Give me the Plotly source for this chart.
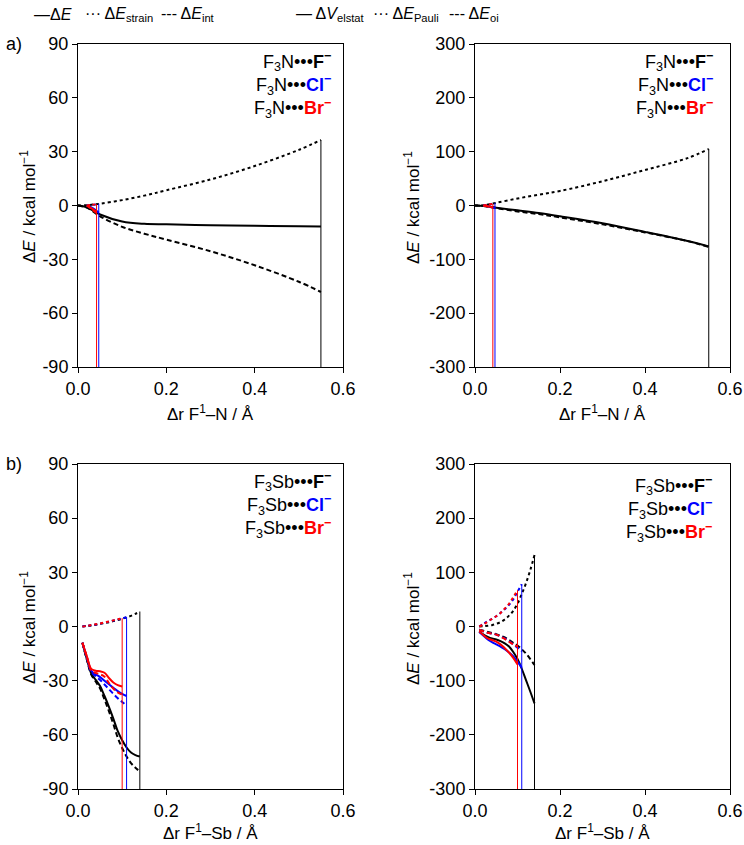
import plotly.graph_objects as go
from plotly.subplots import make_subplots

# ---- a) F3N...X-   (x = delta r F1-N / A)
x_N_F = [0.0, 0.02, 0.05, 0.1, 0.15, 0.2, 0.3, 0.4, 0.5, 0.55]
dE_N_F = [0, -1, -5, -8.9, -10.2, -10.5, -11, -11.3, -11.5, -11.7]
strain_N_F = [0, 0.2, 1, 3, 5.5, 8.5, 14.5, 22, 31, 36.5]
int_N_F = [0, -1.2, -6, -11.9, -15.7, -19, -25.5, -33.3, -42.5, -48.2]
elstat_N_F = [0, -1, -4, -9, -14, -20, -33, -49, -66, -76]
pauli_N_F = [0, 0.5, 5, 13, 20, 27, 45, 66, 88, 105]
oi_N_F = [0, -1, -5, -11, -16, -22, -35, -50, -66, -77]

x_N_Cl = [0.02, 0.03, 0.04, 0.047]
dE_N_Cl = [0, -1, -2.5, -4]
strain_N_Cl = [0, 0.3, 0.6, 1]
int_N_Cl = [0, -1.3, -3.1, -5]
elstat_N_Cl = [0, -1.5, -3, -5]
pauli_N_Cl = [0, 1.5, 3, 5]
oi_N_Cl = [0, -1.3, -3, -5]

x_N_Br = [0.02, 0.03, 0.042]
dE_N_Br = [0, -1.5, -3.5]
strain_N_Br = [0, 0.3, 0.7]
int_N_Br = [0, -1.8, -4.2]
elstat_N_Br = [0, -1.5, -3.5]
pauli_N_Br = [0, 1.5, 3]
oi_N_Br = [0, -1.8, -3.7]

# ---- b) F3Sb...X-   (x = delta r F1-Sb / A)
x_Sb_F = [0.01, 0.02, 0.03, 0.04, 0.05, 0.06, 0.07, 0.08, 0.09, 0.1, 0.11, 0.12, 0.13, 0.14]
dE_Sb_F = [-9, -18, -26, -29.5, -33, -38.5, -44.5, -51, -58, -63, -67, -69.8, -71.2, -72]
strain_Sb_F = [0, 0.3, 0.6, 1, 1.4, 1.9, 2.4, 3, 3.6, 4.3, 5, 5.9, 7, 8.3]
int_Sb_F = [-9, -18.3, -26.6, -30.5, -34.4, -40.4, -46.9, -54, -61.6, -67.3, -72, -75.7, -78.2, -80.3]
elstat_Sb_F = [-9, -15, -19, -22, -24, -27, -31, -37, -47, -60, -78, -99, -120, -142]
pauli_Sb_F = [0, 0.5, 1.5, 2.5, 5, 8, 13, 20, 29, 42, 60, 80, 104, 132]
oi_Sb_F = [-6, -8, -10, -12, -14, -17, -20, -25, -30, -35, -42, -50, -60, -71]

x_Sb_Cl = [0.01, 0.02, 0.03, 0.04, 0.05, 0.06, 0.07, 0.08, 0.09, 0.1, 0.11]
dE_Sb_Cl = [-9, -17, -24.5, -26.5, -28, -30, -32, -34, -35.8, -37.3, -38.5]
strain_Sb_Cl = [0, 0.3, 0.7, 1.1, 1.6, 2.1, 2.7, 3.3, 3.9, 4.5, 5.2]
int_Sb_Cl = [-9, -17.3, -25.2, -27.6, -29.6, -32.1, -34.7, -37.3, -39.7, -41.8, -43.7]
elstat_Sb_Cl = [-10, -17, -24, -29, -33, -37, -42, -48, -55, -65, -76]
pauli_Sb_Cl = [0, 5, 10, 14, 19, 25, 32, 40, 50, 64, 78]
oi_Sb_Cl = [-6, -9, -11.5, -13, -15, -18.5, -22, -27, -33, -39, -46]

x_Sb_Br = [0.01, 0.02, 0.03, 0.04, 0.05, 0.06, 0.07, 0.08, 0.09, 0.1]
dE_Sb_Br = [-9, -16.5, -23.5, -24.5, -24.8, -25.6, -28.5, -31, -32.5, -33.2]
strain_Sb_Br = [0, 0.3, 0.8, 1.2, 1.7, 2.2, 2.8, 3.4, 4, 4.6]
int_Sb_Br = [-9, -16.8, -24.3, -25.7, -26.5, -27.8, -31.3, -34.4, -36.5, -37.8]
elstat_Sb_Br = [-9, -16, -22, -25, -28, -33, -40, -48, -58, -70]
pauli_Sb_Br = [0, 4, 9, 14, 19, 25, 33, 42, 54, 67]
oi_Sb_Br = [-6, -9, -11.5, -13, -15, -18.5, -23, -28, -33, -37]

# axis ticks
x_ticks = [0.0, 0.2, 0.4, 0.6]
x_ticktext = ["0.0", "0.2", "0.4", "0.6"]
yL_ticks = [-90, -60, -30, 0, 30, 60, 90]
yL_ticktext = ["-90", "-60", "-30", "0", "30", "60", "90"]
yR_ticks = [-300, -200, -100, 0, 100, 200, 300]
yR_ticktext = ["-300", "-200", "-100", "0", "100", "200", "300"]

FONT = "Liberation Sans, Arial, sans-serif"
DOT = "3px,3px"
DASH = "5px,3px"
W, H = 744, 845

fig = make_subplots(rows=2, cols=2)


def add_system(row, col, x, solid, dotted, dashed, color, ymin):
    for y, d in ((solid, "solid"), (dotted, DOT), (dashed, DASH)):
        fig.add_trace(go.Scatter(x=x, y=y, mode="lines",
                                 line=dict(color=color, width=2, dash=d, shape="spline"),
                                 showlegend=False, hoverinfo="skip"), row=row, col=col)
    top = max(solid[-1], dotted[-1], dashed[-1])
    fig.add_trace(go.Scatter(x=[x[-1], x[-1]], y=[ymin, top], mode="lines",
                             line=dict(color=color, width=1),
                             showlegend=False, hoverinfo="skip"), row=row, col=col)


# black first, red last (on top)
add_system(1, 1, x_N_F, dE_N_F, strain_N_F, int_N_F, "black", -90)
add_system(1, 1, x_N_Cl, dE_N_Cl, strain_N_Cl, int_N_Cl, "blue", -90)
add_system(1, 1, x_N_Br, dE_N_Br, strain_N_Br, int_N_Br, "red", -90)

add_system(1, 2, x_N_F, elstat_N_F, pauli_N_F, oi_N_F, "black", -300)
add_system(1, 2, x_N_Cl, elstat_N_Cl, pauli_N_Cl, oi_N_Cl, "blue", -300)
add_system(1, 2, x_N_Br, elstat_N_Br, pauli_N_Br, oi_N_Br, "red", -300)

add_system(2, 1, x_Sb_F, dE_Sb_F, strain_Sb_F, int_Sb_F, "black", -90)
add_system(2, 1, x_Sb_Cl, dE_Sb_Cl, strain_Sb_Cl, int_Sb_Cl, "blue", -90)
add_system(2, 1, x_Sb_Br, dE_Sb_Br, strain_Sb_Br, int_Sb_Br, "red", -90)

add_system(2, 2, x_Sb_F, elstat_Sb_F, pauli_Sb_F, oi_Sb_F, "black", -300)
add_system(2, 2, x_Sb_Cl, elstat_Sb_Cl, pauli_Sb_Cl, oi_Sb_Cl, "blue", -300)
add_system(2, 2, x_Sb_Br, elstat_Sb_Br, pauli_Sb_Br, oi_Sb_Br, "red", -300)

axis_style = dict(showline=True, linecolor="black", linewidth=1, mirror=True,
                  ticks="outside", ticklen=5, tickcolor="black", showgrid=False,
                  zeroline=False, automargin=False,
                  tickfont=dict(family=FONT, size=18, color="black"))

# pixel boxes of the four panels
xl = [78 / W, 343 / W]
xr = [475 / W, 730 / W]
yt = [1 - 367 / H, 1 - 44 / H]
yb = [1 - 789 / H, 1 - 464 / H]

for i, (xd, yd, yt_vals, yt_text) in enumerate([
        (xl, yt, yL_ticks, yL_ticktext),
        (xr, yt, yR_ticks, yR_ticktext),
        (xl, yb, yL_ticks, yL_ticktext),
        (xr, yb, yR_ticks, yR_ticktext)], start=1):
    sfx = "" if i == 1 else str(i)
    fig.layout["xaxis" + sfx].update(domain=xd, range=[0, 0.6], tickvals=x_ticks,
                                      ticktext=x_ticktext, **axis_style)
    fig.layout["yaxis" + sfx].update(domain=yd, range=[yt_vals[0], yt_vals[-1]],
                                      tickvals=yt_vals, ticktext=yt_text, **axis_style)

ann = []


def text(x, y, s, size=18, xanchor="center", angle=0, align="center"):
    ann.append(dict(x=x / W, y=1 - y / H, xref="paper", yref="paper", text=s,
                    showarrow=False, xanchor=xanchor, yanchor="middle", textangle=angle,
                    align=align, font=dict(family=FONT, size=size, color="black")))


# panel letters
text(14, 44, "a)")
text(14, 464, "b)")

# top line-style key
text(53, 14, "—Δ<i>E</i>", size=16)
text(119, 14, "··· Δ<i>E</i><sub>strain</sub>", size=16)
text(188, 14, "--- Δ<i>E</i><sub>int</sub>", size=16)
text(330, 14, "— Δ<i>V</i><sub>elstat</sub>", size=16)
text(406, 14, "··· Δ<i>E</i><sub>Pauli</sub>", size=16)
text(474, 14, "--- Δ<i>E</i><sub>oi</sub>", size=16)

# axis titles
ytitle = "Δ<i>E</i> / kcal mol<sup>−1</sup>"
text(28, 207, ytitle, size=17, angle=-90)
text(412, 207, ytitle, size=17, angle=-90)
text(28, 628, ytitle, size=17, angle=-90)
text(412, 628, ytitle, size=17, angle=-90)
text(210, 413, "Δr F<sup>1</sup>–N / Å", size=17)
text(602, 413, "Δr F<sup>1</sup>–N / Å", size=17)
text(210, 832, "Δr F<sup>1</sup>–Sb / Å", size=17)
text(602, 832, "Δr F<sup>1</sup>–Sb / Å", size=17)

# system labels inside panels (one block per panel)
for host, xr_px, yc in (("N", 333, 85), ("N", 715, 85), ("Sb", 333, 505), ("Sb", 714, 509)):
    base = "F<sub>3</sub>" + host + "•••"
    block = "<br>".join([
        base + "<b>F<sup>−</sup></b>",
        base + "<b><span style='color:blue'>Cl<sup>−</sup></span></b>",
        base + "<b><span style='color:red'>Br<sup>−</sup></span></b>"])
    text(xr_px, yc, block, xanchor="right", align="right")

fig.update_layout(width=W, height=H, margin=dict(l=0, r=0, t=0, b=0),
                  paper_bgcolor="white", plot_bgcolor="white",
                  font=dict(family=FONT, color="black"), annotations=ann,
                  showlegend=False)

# the page's default 8px body margin would shift the figure
fig.write_html("out.html", config={"displayModeBar": False},
               post_script="document.body.style.margin='0';")
